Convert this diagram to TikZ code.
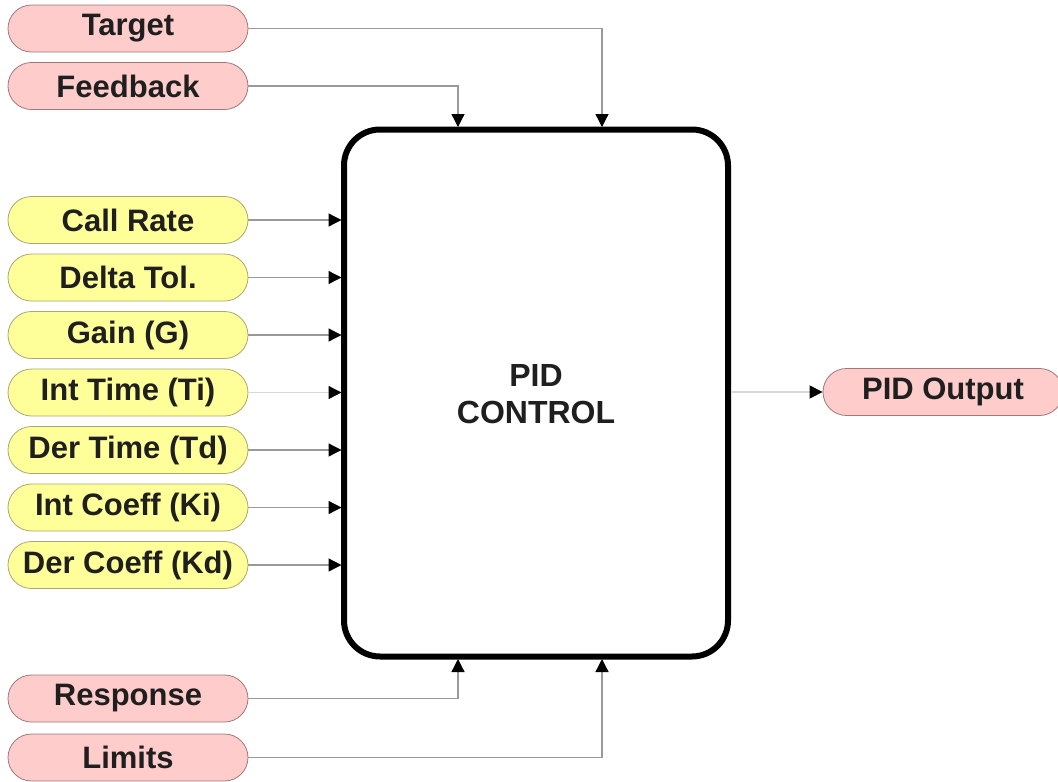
\documentclass[tikz,border=0pt]{standalone}
\usepackage{fontspec}
\setmainfont{Liberation Sans}
\usetikzlibrary{shapes.misc,arrows.meta}
\definecolor{pinkfill}{HTML}{FFCCCC}
\definecolor{pinkline}{HTML}{A07878}
\definecolor{yelfill}{HTML}{FFFF99}
\definecolor{yelline}{HTML}{A8A870}
\definecolor{conncol}{HTML}{999999}
\definecolor{connlight}{HTML}{D8D8D8}
\begin{document}
\begin{tikzpicture}[x=1pt,y=-1pt,
  pill/.style={rounded rectangle, minimum width=240pt, minimum height=47pt, inner sep=0pt,
    font=\fontsize{31}{35}\selectfont\bfseries, text=black!88, line width=0.8pt},
  pinkpill/.style={pill, fill=pinkfill, draw=pinkline},
  yelpill/.style={pill, fill=yelfill, draw=yelline},
  conn/.style={draw=conncol, line width=1.3pt, -{Triangle[length=13pt 0,width=13pt 0,color=black,fill=black]}},
  connl/.style={conn, draw=connlight},
  mainbox/.style={draw=black, line width=6pt, rounded corners=36pt, fill=white}
]
\useasboundingbox (0,0) rectangle (1058,782);
% main box
\draw[mainbox] (344,129.5) rectangle (728,656.5);
\node[align=center, font=\fontsize{32}{37}\selectfont\bfseries, text=black!88] (pid) at (536,394) {PID\\CONTROL};
% top inputs
\node[pinkpill] (target) at (128,28.5) {Target};
\node[pinkpill] (feedback) at (128,86) {Feedback};
\coordinate (t1) at (602,127);
\coordinate (t2) at (458,127);
\draw[conn] (target.east) -| (t1);
\draw[conn] (feedback.east) -| (t2);
% left inputs
\node[yelpill] (callrate) at (128,220) {Call Rate};
\node[yelpill] (delta) at (128,277.5) {Delta Tol.};
\node[yelpill] (gain) at (128,335) {Gain (G)};
\node[yelpill] (inttime) at (128,392.5) {Int Time (Ti)};
\node[yelpill] (dertime) at (128,450) {Der Time (Td)};
\node[yelpill] (intcoeff) at (128,507.5) {Int Coeff (Ki)};
\node[yelpill] (dercoeff) at (128,565) {Der Coeff (Kd)};
\foreach \n in {callrate,delta,gain,dertime,intcoeff,dercoeff}{
  \coordinate (\n-in) at (341.5,0 |- \n.east);
  \draw[conn] (\n.east) -- (\n-in);
}
\coordinate (inttime-in) at (341.5,0 |- inttime.east);
\draw[connl] (inttime.east) -- (inttime-in);
% bottom inputs
\node[pinkpill] (response) at (128,698.5) {Response};
\node[pinkpill] (limits) at (128,757.5) {Limits};
\coordinate (b1) at (458,659);
\coordinate (b2) at (602,659);
\draw[conn] (response.east) -| (b1);
\draw[conn] (limits.east) -| (b2);
% output
\node[pinkpill] (output) at (943,392) {PID Output};
\coordinate (boxE) at (731,392);
\draw[connl] (boxE) -- (output.west);
\end{tikzpicture}
\end{document}
